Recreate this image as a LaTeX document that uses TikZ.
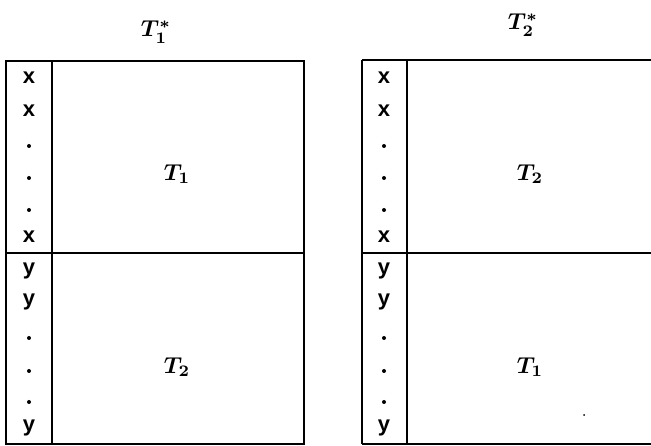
\documentclass[tikz,border=0pt]{standalone}
\usepackage{fontspec}
\setsansfont{Liberation Sans}
\begin{document}
\begin{tikzpicture}[x=1pt,y=-1pt,line width=1.8pt,
  lbl/.style={font=\normalsize\boldmath,scale=2.3,transform shape},
  col/.style={font=\fontsize{22}{25}\selectfont\sffamily\bfseries},
  dotc/.style={circle,fill=black,inner sep=0pt,minimum size=4pt}]
\useasboundingbox (0,0) rectangle (651,446);
\begin{scope}
\clip (0,0) rectangle (651,446);
% left table
\draw (6,61) rectangle (304,444);
\draw (52,61) -- (52,444);
\draw (6,253) -- (304,253);
% right table
\draw (362,60) -- (660,60);
\draw (362,444) -- (660,444);
\draw (362,60) -- (362,444);
\draw (407,60) -- (407,444);
\draw (362,253) -- (660,253);
\end{scope}
% titles
\node[lbl] (t1s) at (156,32) {$T_1^*$};
\node[lbl] (t2s) at (523,25) {$T_2^*$};
% labels
\node[lbl] (a1) at (177,174) {$T_1$};
\node[lbl] (a2) at (177,367) {$T_2$};
\node[lbl] (b2) at (530,174) {$T_2$};
\node[lbl] (b1) at (530,367) {$T_1$};
% columns
\foreach \cx/\p in {29/l,384/r}{
  \node[col] (\p x1) at (\cx,78) {x};
  \node[col] (\p x2) at (\cx,111) {x};
  \node[dotc] (\p d1) at (\cx,146) {};
  \node[dotc] (\p d2) at (\cx,178) {};
  \node[dotc] (\p d3) at (\cx,210) {};
  \node[col] (\p x3) at (\cx,237) {x};
  \node[col] (\p y1) at (\cx,271) {y};
  \node[col] (\p y2) at (\cx,302) {y};
  \node[dotc] (\p e1) at (\cx,338) {};
  \node[dotc] (\p e2) at (\cx,371) {};
  \node[dotc] (\p e3) at (\cx,402) {};
  \node[col] (\p y3) at (\cx,428) {y};
}
\node[circle,fill=black,inner sep=0pt,minimum size=2pt] (spk) at (584,415) {};
\end{tikzpicture}
\end{document}
